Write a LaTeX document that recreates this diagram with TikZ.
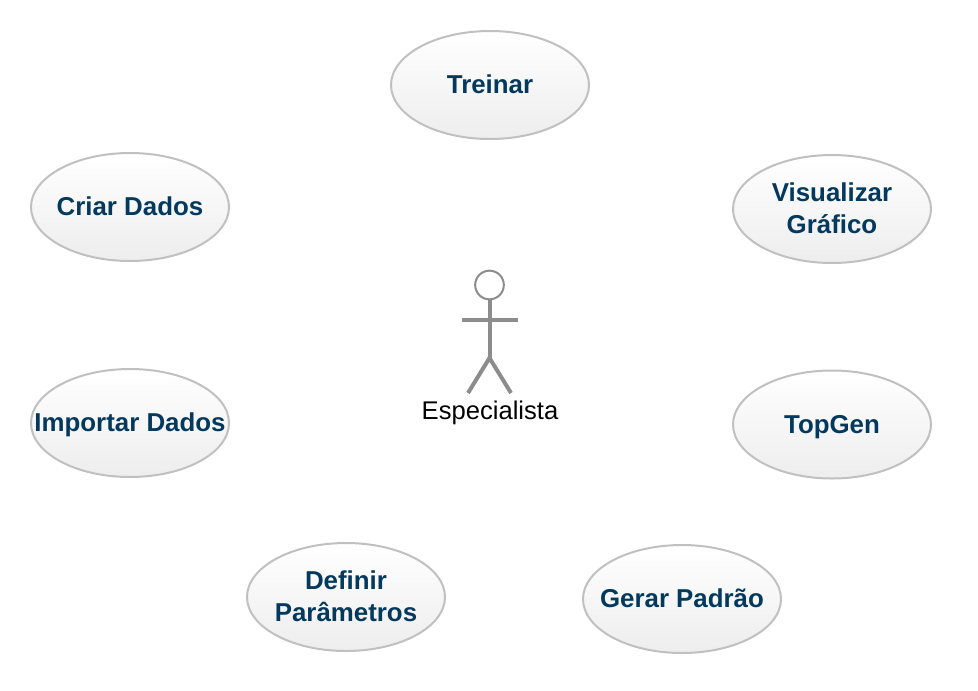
\documentclass[tikz,border=0pt]{standalone}
\usepackage{fontspec}
\setmainfont{Liberation Sans}
\usetikzlibrary{shapes.geometric}
\definecolor{usecasetext}{HTML}{04395E}
\definecolor{usecaseline}{HTML}{C0C0C0}
\definecolor{actorline}{HTML}{8C8C8C}
\begin{document}
\begin{tikzpicture}[x=0.75pt, y=-0.75pt]
    \tikzstyle{usecase} = [ellipse, draw=usecaseline, line width=1.5pt, top color=white, bottom color=black!7, minimum width=148.5pt, minimum height=81pt, inner xsep=-40pt, inner ysep=-25pt, align=center, text height=14pt, text depth=1.5pt, text=usecasetext, font=\fontsize{19.4}{24}\selectfont\bfseries]
    \tikzstyle{twolines} = [usecase, text height=38pt]
    \tikzstyle{limb} = [draw=actorline, line width=3pt]

    \useasboundingbox (0,0) rectangle (978,690);

    \node [usecase] (treinar) at (490,85) {Treinar};
    \node [usecase] (criar) at (130,207) {Criar Dados};
    \node [twolines] (visualizar) at (832,209) {Visualizar\\Gráfico};
    \node [usecase] (importar) at (130,423) {Importar Dados};
    \node [usecase, text depth=0.5pt] (topgen) at (832,424.5) {TopGen};
    \node [twolines] (definir) at (346,597) {Definir\\Parâmetros};
    \node [usecase] (gerar) at (682,599) {Gerar Padrão};

    \node [circle, draw=actorline, line width=1.5pt, fill=white, minimum size=21.5pt, inner sep=0pt] (head) at (489.5,285) {};
    \coordinate (hip) at (489.5,358);
    \coordinate (handl) at (462,320);
    \coordinate (handr) at (518,320);
    \coordinate (footl) at (468,393);
    \coordinate (footr) at (511,393);
    \draw [limb] (head.south) -- (hip);
    \draw [limb] (handl) -- (handr);
    \draw [limb] (footl) -- (hip) -- (footr);
    \node [font=\fontsize{19.2}{22}\selectfont] (especialista) at (490,413) {Especialista};
\end{tikzpicture}
\end{document}
